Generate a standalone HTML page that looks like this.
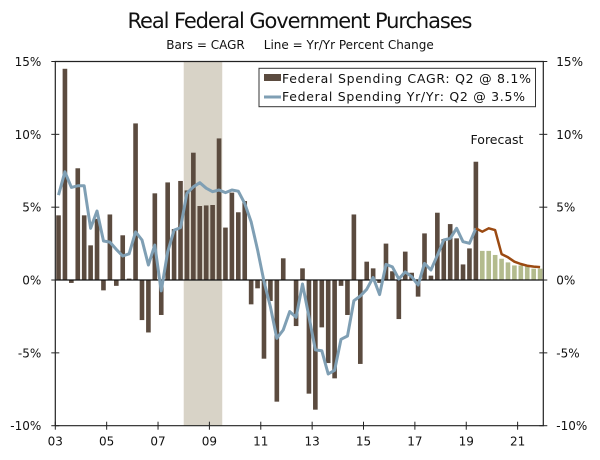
<!DOCTYPE html>
<html><head><meta charset="utf-8"><style>
html,body{margin:0;padding:0;background:#fff;}
svg{display:block;font-family:"DejaVu Sans","Liberation Sans",sans-serif;}
</style></head><body>
<svg id="chart" width="600" height="460" viewBox="0 0 600 460">
<text x="300" y="28" text-anchor="middle" font-size="21" fill="#111" textLength="345">Real Federal Government Purchases</text>
<text x="300" y="49" text-anchor="middle" font-size="12" fill="#111" xml:space="preserve">Bars = CAGR     Line = Yr/Yr Percent Change</text>
<g id="plot"></g>
</svg>
<script>
const startYear = 2003;
const recession = [2008.0, 2009.5];
const cagrActual = [4.44,14.5,-0.2,7.67,4.44,2.38,4.2,-0.71,4.5,-0.4,3.07,0.1,10.75,-2.75,-3.6,5.95,-2.4,6.7,3.5,6.8,6.15,8.74,5.08,5.12,5.15,9.72,3.6,6.0,4.65,5.42,-1.67,-0.57,-5.4,-1.44,-8.35,1.49,0,-3.16,0.8,-7.8,-8.9,-3.25,-5.7,-6.75,-0.4,-2.4,4.5,-5.76,1.26,0.8,-0.2,2.5,0.6,-2.68,1.95,0.5,-1.14,3.2,0.3,4.62,2.81,3.84,2.86,1.07,2.17,8.12];
const cagrForecast = [2.0,2.0,1.72,1.46,1.21,1.0,1.0,0.94,0.78,0.78];
const yoyActual = [5.83,7.43,6.36,6.47,6.47,3.55,4.74,2.68,2.6,2.1,1.65,1.8,3.3,2.75,1.03,2.4,-0.75,1.94,3.43,3.6,5.95,6.4,6.68,6.3,6.06,6.18,6.0,6.18,6.1,5.26,4.0,2.06,-0.1,-1.83,-4.0,-3.43,-2.17,-2.56,-0.27,-2.5,-4.8,-4.85,-6.45,-6.2,-4.07,-3.84,-1.42,-1.1,-0.64,0.18,-1.0,1.07,0.9,0.07,0.56,0.23,-0.34,1.14,0.69,1.7,2.75,2.86,3.55,2.63,2.52,3.55];
const yoyForecast = [3.32,3.55,3.43,1.78,1.56,1.26,1.1,0.98,0.92,0.89];
const yTicks = [15,10,5,0,-5,-10];
const xTickYears = [2003,2005,2007,2009,2011,2013,2015,2017,2019,2021];

const NS='http://www.w3.org/2000/svg';
const L=55.3,R=543.3,T=61.5,B=425.7,yMin=-10,yMax=15;
const nQ=76, qW=(R-L)/nQ;
const y=v=>B-(v-yMin)/(yMax-yMin)*(B-T);
const xQ=i=>L+(i+0.5)*qW;
const xYear=yr=>L+(yr-startYear)*4*qW;
const g=document.getElementById('plot');
function mk(tag,attrs){const e=document.createElementNS(NS,tag);for(const k in attrs)e.setAttribute(k,attrs[k]);g.appendChild(e);return e;}

const sh=mk('rect',{x:xYear(recession[0]),y:T,width:xYear(recession[1])-xYear(recession[0]),height:B-T,fill:'#d8d3c7'});



const bw=qW*0.72;
cagrActual.forEach((v,i)=>{
  const r=mk('rect',{x:xQ(i)-bw/2,y:Math.min(y(v),y(0)),width:bw,height:Math.abs(y(v)-y(0)),fill:'#5b4b3f'});
  
  
});
cagrForecast.forEach((v,j)=>{
  const i=cagrActual.length+j;
  const r=mk('rect',{x:xQ(i)-bw/2,y:Math.min(y(v),y(0)),width:bw,height:Math.abs(y(v)-y(0)),fill:'#b3bb8d'});
  
  
});

const zl=mk('line',{x1:L,x2:R,y1:y(0),y2:y(0),stroke:'#111','stroke-width':1.3});



const pa=yoyActual.map((v,i)=>xQ(i).toFixed(1)+','+y(v).toFixed(1)).join(' ');
const la=mk('polyline',{points:pa,fill:'none',stroke:'#7f9fb4','stroke-width':3,'stroke-linejoin':'round'});


const n=yoyActual.length;
const pf=[xQ(n-1).toFixed(1)+','+y(yoyActual[n-1]).toFixed(1)].concat(yoyForecast.map((v,j)=>xQ(n+j).toFixed(1)+','+y(v).toFixed(1))).join(' ');
const lf=mk('polyline',{points:pf,fill:'none',stroke:'#9b4a12','stroke-width':2.5,'stroke-linejoin':'round'});



const fr=mk('path',{d:`M${L},${B}V${T}H${R}V${B}H${L}`,fill:'none',stroke:'#222','stroke-width':1.2});



yTicks.forEach(t=>{
  const yy=y(t);
  const a=mk('line',{x1:L-4,x2:L+4,y1:yy,y2:yy,stroke:'#222','stroke-width':1});
  
  
  const b=mk('line',{x1:R-4,x2:R+4,y1:yy,y2:yy,stroke:'#222','stroke-width':1});
  
  
  const tl=mk('text',{x:L-14,y:yy+4.5,'text-anchor':'end','font-size':12,fill:'#111'});
  tl.textContent=t+'%';
  
  
  const tr=mk('text',{x:R+13,y:yy+4.5,'text-anchor':'start','font-size':12,fill:'#111'});
  tr.textContent=t+'%';
  
  
});
xTickYears.forEach(yr=>{
  const xx=xYear(yr);
  const tk=mk('line',{x1:xx,x2:xx,y1:B-4,y2:B+4,stroke:'#222','stroke-width':1});
  
  
  const tx=mk('text',{x:xx,y:B+20,'text-anchor':'middle','font-size':12,fill:'#111'});
  tx.textContent=String(yr).slice(2);
  
  
});

const fc=mk('text',{x:497,y:144,'text-anchor':'middle','font-size':12.5,fill:'#111'});
fc.textContent='Forecast';



const lg=mk('rect',{x:259,y:68.3,width:276.5,height:38.4,fill:'#fff',stroke:'#333','stroke-width':1});


const s1=mk('rect',{x:264,y:74,width:17,height:7,fill:'#5b4b3f'});


const t1=mk('text',{x:282,y:83,'font-size':12.5,fill:'#111',textLength:249});
t1.textContent='Federal Spending CAGR: Q2 @ 8.1%';


const s2=mk('line',{x1:264,x2:281,y1:97,y2:97,stroke:'#7f9fb4','stroke-width':3});


const t2=mk('text',{x:282,y:101,'font-size':12.5,fill:'#111',textLength:243});
t2.textContent='Federal Spending Yr/Yr: Q2 @ 3.5%';


</script>
</body></html>
